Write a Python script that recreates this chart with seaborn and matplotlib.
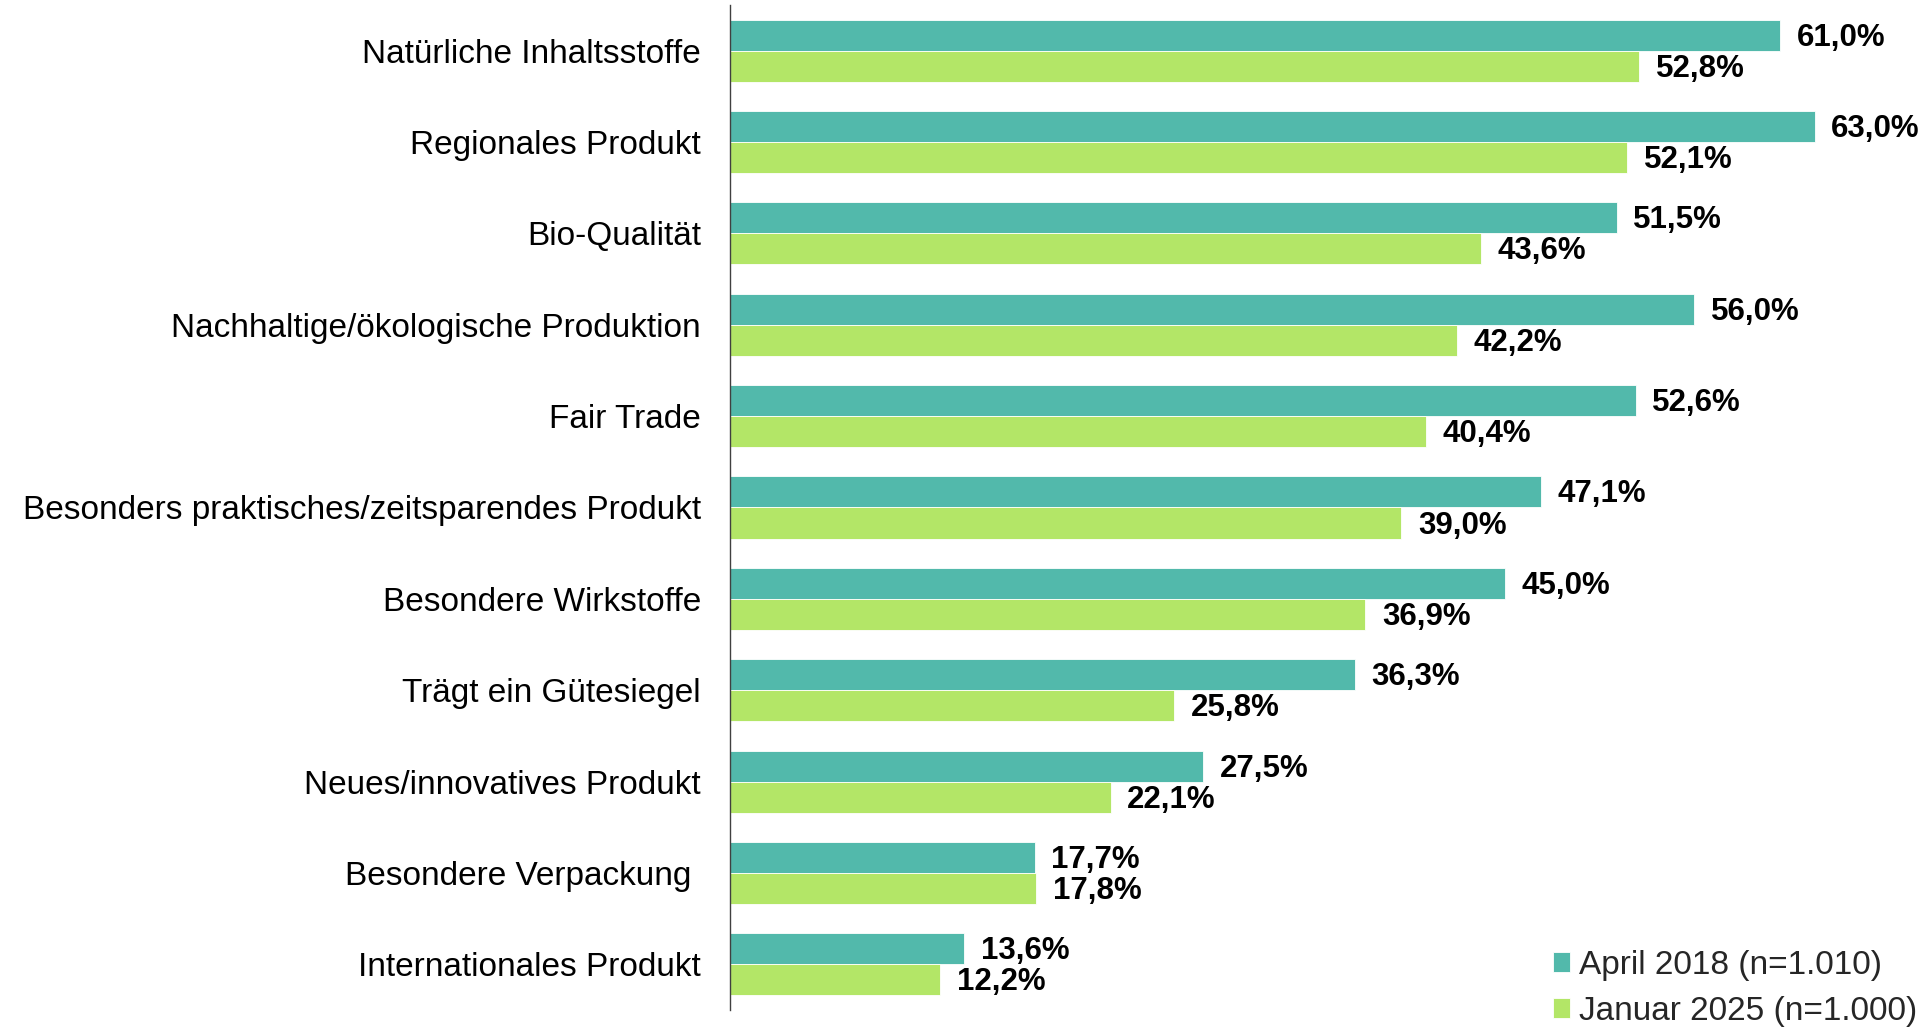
import matplotlib
matplotlib.use("Agg")
import matplotlib.pyplot as plt
import pandas as pd
import seaborn as sns

# Chart data
categories = [
    "Natürliche Inhaltsstoffe",
    "Regionales Produkt",
    "Bio-Qualität",
    "Nachhaltige/ökologische Produktion",
    "Fair Trade",
    "Besonders praktisches/zeitsparendes Produkt",
    "Besondere Wirkstoffe",
    "Trägt ein Gütesiegel",
    "Neues/innovatives Produkt",
    "Besondere Verpackung ",
    "Internationales Produkt",
]
april_2018 = [61.0, 63.0, 51.5, 56.0, 52.6, 47.1, 45.0, 36.3, 27.5, 17.7, 13.6]
januar_2025 = [52.8, 52.1, 43.6, 42.2, 40.4, 39.0, 36.9, 25.8, 22.1, 17.8, 12.2]
series_names = ["April 2018 (n=1.010)", "Januar 2025 (n=1.000)"]
colors = ["#52B9AB", "#B3E667"]

# Long-form table for seaborn
df = pd.DataFrame({
    "Merkmal": categories * 2,
    "Wert": april_2018 + januar_2025,
    "Welle": [series_names[0]] * len(categories) + [series_names[1]] * len(categories),
})

sns.set_style("white")
plt.rcParams["font.family"] = ["Liberation Sans", "DejaVu Sans"]

fig = plt.figure(figsize=(19.24, 10.27), dpi=100)
ax = fig.add_axes([730 / 1924, 17 / 1027, 1188 / 1924, 1005 / 1027])

sns.barplot(
    data=df, y="Merkmal", x="Wert", hue="Welle",
    order=categories, hue_order=series_names,
    palette=colors, orient="h", width=0.68,
    edgecolor="white", linewidth=0.6, saturation=1, ax=ax,
)

# Value labels with German decimal comma
for container, vals in zip(ax.containers, [april_2018, januar_2025]):
    labels = [f"{v:.1f}".replace(".", ",") + "%" for v in vals]
    txts = ax.bar_label(container, labels=labels, padding=12, fontsize=22.5,
                        fontweight="bold", color="black")
    # nudge labels slightly down like the original
    for t in txts:
        t.xyann = (t.xyann[0], t.xyann[1] - 1.8)

ax.set_xlim(0, 69)
ax.set_ylim(len(categories) - 0.5, -0.5)
ax.set_xlabel("")
ax.set_ylabel("")
ax.set_xticks([])
ax.tick_params(axis="y", length=0, pad=21, labelsize=24, labelcolor="black")

for side in ["top", "right", "bottom"]:
    ax.spines[side].set_visible(False)
ax.spines["left"].set_color("#404040")
ax.spines["left"].set_linewidth(1.0)

handles, lbls = ax.get_legend_handles_labels()
ax.get_legend().remove()
fig.legend(
    handles, lbls, loc="lower left",
    bbox_to_anchor=(1553 / 1924, 0.0), bbox_transform=fig.transFigure,
    frameon=False, fontsize=24, borderpad=0, borderaxespad=0,
    handlelength=0.52, handleheight=0.52, handletextpad=0.25,
    labelspacing=0.45,
)

fig.savefig("out.png", dpi=100)
